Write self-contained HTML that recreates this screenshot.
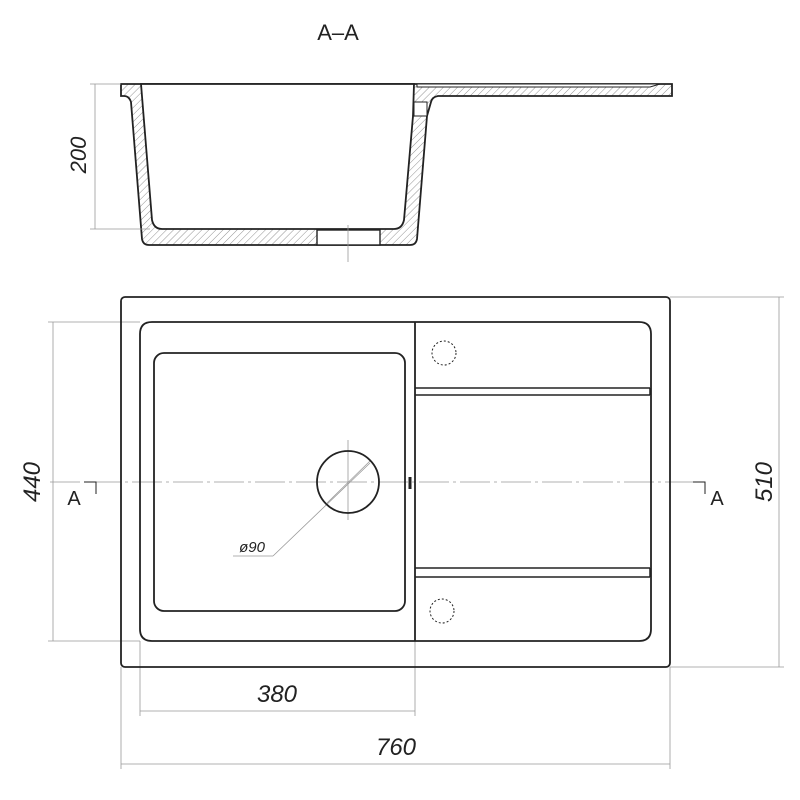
<!DOCTYPE html>
<html><head><meta charset="utf-8"><style>
html,body{margin:0;padding:0;background:#fff;}
svg{display:block}
text{font-family:"Liberation Sans",sans-serif;fill:#222;}
</style></head><body>
<svg width="800" height="800" viewBox="0 0 800 800" xmlns="http://www.w3.org/2000/svg">
<defs>
<pattern id="h" width="5" height="5" patternUnits="userSpaceOnUse" patternTransform="rotate(45)">
<line x1="0" y1="0" x2="0" y2="5" stroke="#777" stroke-width="0.8"/>
</pattern>
</defs>
<rect width="800" height="800" fill="#fff"/>
<text x="338" y="40" font-size="22" text-anchor="middle">A–A</text>

<!-- section -->
<g stroke="#222" stroke-width="1.8" fill="none">
<path d="M121 84 L672 84 L672 96 L438 96 Q432 97 431 102 L427 116 L417 239 Q416 245 410 245 L149 245 Q143 245 142 239 L131 102 Q129 96 124 96 L121 96 Z" fill="url(#h)"/>
<path d="M141 84 L414 84 L413 116 L404 220 Q402 229 394 229 L162 229 Q154 229 152 220 Z" fill="#fff"/>
<path d="M417 84 L660 84 L650 87 L417 87 Z" fill="#fff" stroke-width="1"/>
<rect x="317" y="230" width="63" height="15" fill="#fff" stroke-width="1.4"/>
<rect x="414" y="102" width="13" height="14" fill="#fff" stroke-width="1"/>
</g>
<g stroke="#999" stroke-width="0.8">
<line x1="95" y1="84" x2="95" y2="229"/>
<line x1="90" y1="84" x2="121" y2="84"/>
<line x1="90" y1="229" x2="150" y2="229"/>
<line x1="348" y1="225" x2="348" y2="262"/>
</g>
<text transform="translate(86,155) rotate(-90)" font-size="22" text-anchor="middle" font-style="italic">200</text>

<!-- plan -->
<g stroke="#999" stroke-width="0.8">
<line x1="50" y1="482" x2="705" y2="482" stroke-dasharray="30,4,3,4"/>
<line x1="53" y1="322" x2="53" y2="641"/>
<line x1="48" y1="322" x2="140" y2="322"/>
<line x1="48" y1="641" x2="140" y2="641"/>
<line x1="779" y1="297" x2="779" y2="667"/>
<line x1="670" y1="297" x2="784" y2="297"/>
<line x1="670" y1="667" x2="784" y2="667"/>
<line x1="140" y1="641" x2="140" y2="716"/>
<line x1="415" y1="641" x2="415" y2="716"/>
<line x1="140" y1="711" x2="415" y2="711"/>
<line x1="121" y1="667" x2="121" y2="769"/>
<line x1="670" y1="667" x2="670" y2="769"/>
<line x1="121" y1="764" x2="670" y2="764"/>
<line x1="348" y1="440" x2="348" y2="520"/>
<line x1="233" y1="556" x2="273" y2="556"/>
<line x1="273" y1="556" x2="370" y2="463"/>
<line x1="327" y1="503" x2="370" y2="461"/>
</g>
<g stroke="#222" stroke-width="1.8" fill="none">
<rect x="121" y="297" width="549" height="370" rx="4"/>
<path d="M152 322 L639 322 Q651 322 651 334 L651 629 Q651 641 639 641 L152 641 Q140 641 140 629 L140 334 Q140 322 152 322 Z"/>
<line x1="415" y1="322" x2="415" y2="641"/>
<rect x="154" y="353" width="251" height="258" rx="10"/>
<circle cx="348" cy="482" r="31"/>
<line x1="415" y1="388" x2="650" y2="388" stroke-width="1.5"/>
<line x1="415" y1="395" x2="650" y2="395" stroke-width="1.5"/>
<line x1="415" y1="568" x2="650" y2="568" stroke-width="1.5"/>
<line x1="415" y1="577" x2="650" y2="577" stroke-width="1.5"/>
<line x1="650" y1="388" x2="650" y2="395" stroke-width="1.5"/>
<line x1="650" y1="568" x2="650" y2="577" stroke-width="1.5"/>
<line x1="410" y1="477" x2="410" y2="489" stroke-width="3"/>
<circle cx="444" cy="353" r="12" stroke-width="1" stroke-dasharray="2,2"/>
<circle cx="442" cy="611" r="12" stroke-width="1" stroke-dasharray="2,2"/>
</g>
<g stroke="#222" stroke-width="1" fill="none">
<polyline points="84,482 96,482 96,494"/>
<polyline points="693,482 705,482 705,494"/>
</g>
<text x="74" y="505" font-size="20" text-anchor="middle">A</text>
<text x="717" y="505" font-size="20" text-anchor="middle">A</text>
<text transform="translate(40,482) rotate(-90)" font-size="24" text-anchor="middle" font-style="italic">440</text>
<text transform="translate(772,482) rotate(-90)" font-size="24" text-anchor="middle" font-style="italic">510</text>
<text x="277" y="702" font-size="24" text-anchor="middle" font-style="italic">380</text>
<text x="396" y="755" font-size="24" text-anchor="middle" font-style="italic">760</text>
<text x="252" y="552" font-size="15" text-anchor="middle" font-style="italic">ø90</text>
</svg>
</body></html>
